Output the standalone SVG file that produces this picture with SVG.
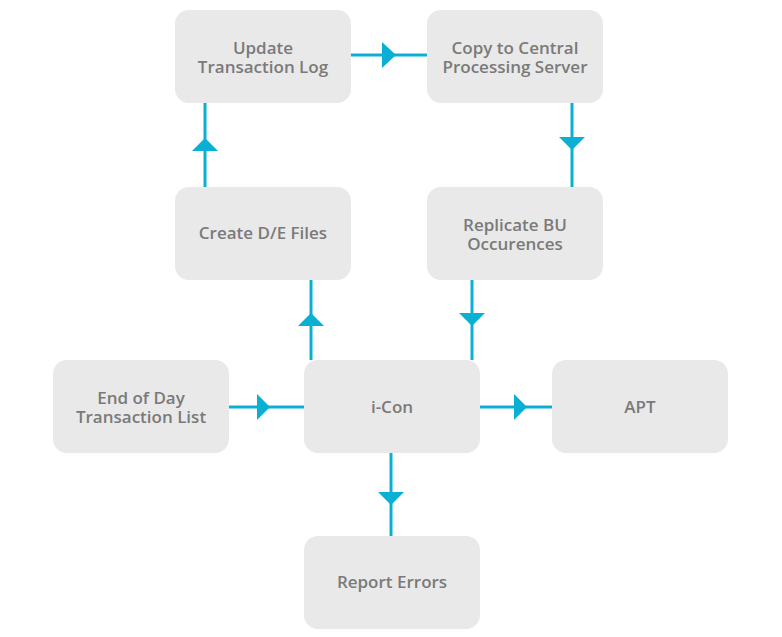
<svg xmlns="http://www.w3.org/2000/svg" width="782" height="637" viewBox="0 0 782 637">
<defs>
<style>
.box{fill:#e9e9e9}
.lbl{font-family:"Open Sans","Liberation Sans",sans-serif;font-weight:600;font-size:17px;fill:#7a7a7a;text-anchor:middle}
.ln{stroke:#0aafd4;stroke-width:3;fill:none}
.ah{fill:#0aafd4}
</style>
</defs>
<rect width="782" height="637" fill="#ffffff"/>
<g id="connectors">
<line class="ln" x1="351" y1="55" x2="427" y2="55"/>
<polygon class="ah" points="382,42 396,55 382,68"/>
<line class="ln" x1="205" y1="187" x2="205" y2="103"/>
<polygon class="ah" points="192,151 205,138 218,151"/>
<line class="ln" x1="572" y1="103" x2="572" y2="187"/>
<polygon class="ah" points="559,137 572,150 585,137"/>
<line class="ln" x1="311" y1="360" x2="311" y2="280"/>
<polygon class="ah" points="298,326 311,313 324,326"/>
<line class="ln" x1="472" y1="280" x2="472" y2="360"/>
<polygon class="ah" points="459,313 472,326 485,313"/>
<line class="ln" x1="229" y1="407" x2="304" y2="407"/>
<polygon class="ah" points="257,394 270,407 257,420"/>
<line class="ln" x1="480" y1="407" x2="552" y2="407"/>
<polygon class="ah" points="514,394 527,407 514,420"/>
<line class="ln" x1="391" y1="453" x2="391" y2="536"/>
<polygon class="ah" points="378,492 391,505 404,492"/>
</g>
<g id="update">
<rect class="box" x="175" y="10" width="176" height="93" rx="14"/>
<text class="lbl" x="263" y="54">Update</text>
<text class="lbl" x="263" y="73">Transaction Log</text>
</g>
<g id="copy">
<rect class="box" x="427" y="10" width="176" height="93" rx="14"/>
<text class="lbl" x="515" y="54">Copy to Central</text>
<text class="lbl" x="515" y="73">Processing Server</text>
</g>
<g id="create">
<rect class="box" x="175" y="187" width="176" height="93" rx="14"/>
<text class="lbl" x="263" y="239">Create D/E Files</text>
</g>
<g id="replicate">
<rect class="box" x="427" y="187" width="176" height="93" rx="14"/>
<text class="lbl" x="515" y="231">Replicate BU</text>
<text class="lbl" x="515" y="250">Occurences</text>
</g>
<g id="endofday">
<rect class="box" x="53" y="360" width="176" height="93" rx="14"/>
<text class="lbl" x="141" y="404">End of Day</text>
<text class="lbl" x="141" y="423">Transaction List</text>
</g>
<g id="icon">
<rect class="box" x="304" y="360" width="176" height="93" rx="14"/>
<text class="lbl" x="392" y="413">i-Con</text>
</g>
<g id="apt">
<rect class="box" x="552" y="360" width="176" height="93" rx="14"/>
<text class="lbl" x="640" y="413">APT</text>
</g>
<g id="report">
<rect class="box" x="304" y="536" width="176" height="93" rx="14"/>
<text class="lbl" x="392" y="588">Report Errors</text>
</g>
</svg>
